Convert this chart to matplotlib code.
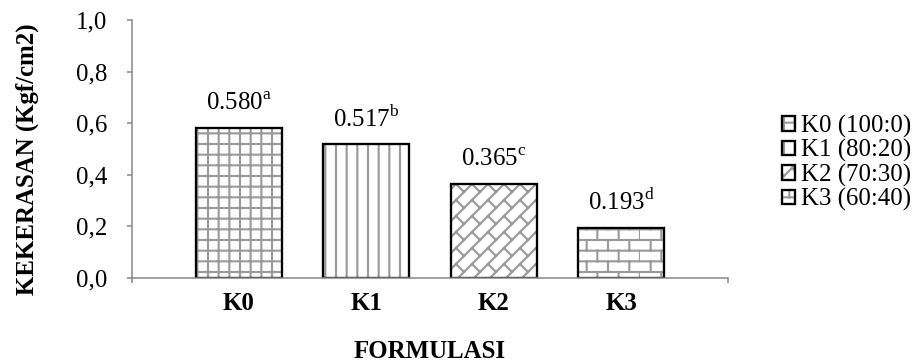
import warnings
import numpy as np
import matplotlib
matplotlib.use("Agg")
import matplotlib.pyplot as plt
from matplotlib import hatch as mhatch
from matplotlib.path import Path

warnings.filterwarnings("ignore", message="hatch must consist")

# data
formulasi = ["K0", "K1", "K2", "K3"]
kekerasan = [0.580, 0.517, 0.365, 0.193]
notasi = ["a", "b", "c", "d"]
legend_labels = ["K0 (100:0)", "K1 (80:20)", "K2 (70:30)", "K3 (60:40)"]
y_ticks = [0.0, 0.2, 0.4, 0.6, 0.8, 1.0]
y_ticklabels = ["0,0", "0,2", "0,4", "0,6", "0,8", "1,0"]


# extra hatch patterns: 'b' = brick, 'd' = diagonal brick
class BrickHatch(mhatch.HatchPatternBase):
    def __init__(self, hatch, density):
        n = hatch.count('b')
        self.rows = int(n * density * 2)
        self.cols = int(n * density)
        if self.rows:
            self.num_vertices = 2 * self.rows + 2 * (self.rows + 1) * self.cols
        else:
            self.num_vertices = 0

    def set_vertices_and_codes(self, vertices, codes):
        rows, cols = self.rows, self.cols
        h = 1.0 / rows
        ys = (np.arange(rows) + 0.5) * h
        pts = []
        for y in ys:
            pts += [(0.0, y), (1.0, y)]
        for i in range(-1, rows):
            y0 = (i + 0.5) * h
            off = 0.5 * (i % 2)
            for j in range(cols):
                x = (j + off + 0.5) / cols
                pts += [(x, y0), (x, y0 + h)]
        vertices[:] = np.array(pts)
        codes[0::2] = Path.MOVETO
        codes[1::2] = Path.LINETO


class DiagonalBrickHatch(mhatch.HatchPatternBase):
    def __init__(self, hatch, density):
        n = hatch.count('d')
        self.m = int(n * (density + 2))
        self.q = self.m // 2
        if self.m:
            m, q = self.m, self.q
            self.num_vertices = 2 * (2 * m + 1) + 2 * (2 * m) * (2 * q + 1)
        else:
            self.num_vertices = 0

    def set_vertices_and_codes(self, vertices, codes):
        m, q = self.m, self.q
        pts = []
        for k in range(-m, m + 1):
            c = k / m
            pts += [(-1.0, -1.0 + c), (2.0, 2.0 + c)]
        for k in range(-m, m):
            c = k / m
            off = 0.5 * (k % 2)
            for j in range(2 * q + 1):
                d = (j + off) / q
                pts += [((d - c) / 2, (d + c) / 2),
                        ((d - c - 1.0 / m) / 2, (d + c + 1.0 / m) / 2)]
        vertices[:] = np.array(pts)
        codes[0::2] = Path.MOVETO
        codes[1::2] = Path.LINETO


mhatch._hatch_types.extend([BrickHatch, DiagonalBrickHatch])

hatches = ["++", "||", "d", "b"]

plt.rcParams['font.family'] = ['Liberation Serif', 'DejaVu Serif']
plt.rcParams['mathtext.fontset'] = 'custom'
plt.rcParams['mathtext.rm'] = 'Liberation Serif'
plt.rcParams['hatch.linewidth'] = 1.2

axis_grey = '#868686'
hatch_grey = '#9a9a9a'
fs = 14

fig = plt.figure(figsize=(922 / 128, 362 / 128), dpi=128)
ax = fig.add_axes([132 / 922, 1 - 277.5 / 362, 596 / 922, 257.5 / 362])

x = np.arange(len(formulasi))
# hatched fill first (hatch takes the edge colour), black outline on top
fills = ax.bar(x, kekerasan, width=0.675, color='white',
               edgecolor=hatch_grey, linewidth=0)
for b, h in zip(fills, hatches):
    b.set_hatch(h)
outlines = ax.bar(x, kekerasan, width=0.675, fill=False,
                  edgecolor='black', linewidth=1.3)

for xi, v, s in zip(x, kekerasan, notasi):
    ax.annotate(f"{v:.3f}$^{{\\mathrm{{{s}}}}}$", (xi, v), xytext=(0, 10),
                textcoords='offset points', ha='center', va='baseline',
                fontsize=fs)

ax.set_xlim(-0.84, 3.84)
ax.set_ylim(0, 1.0)
ax.set_yticks(y_ticks)
ax.set_yticklabels(y_ticklabels)
ax.set_xticks(x)
ax.set_xticklabels(formulasi, fontweight='bold')
ax.set_xticks([-0.84, 3.84], minor=True)

ax.tick_params(axis='y', direction='out', length=3, width=0.85,
               color=axis_grey, pad=11, labelsize=fs)
ax.tick_params(axis='x', which='major', length=0, pad=8, labelsize=fs)
ax.tick_params(axis='x', which='minor', direction='out', length=3,
               width=0.85, color=axis_grey)

for side in ['top', 'right']:
    ax.spines[side].set_visible(False)
for side in ['left', 'bottom']:
    ax.spines[side].set_color(axis_grey)
    ax.spines[side].set_linewidth(0.85)

fig.text(27 / 922, 1 - 159 / 362, "KEKERASAN (Kgf/cm2)", rotation=90,
         ha='center', va='center', fontsize=fs, fontweight='bold')
fig.text(430 / 922, 1 - 351 / 362, "FORMULASI", ha='center', va='center',
         fontsize=fs, fontweight='bold')

handles = [(f, o) for f, o in zip(fills, outlines)]
fig.legend(handles=handles, labels=legend_labels, loc='center left',
           bbox_to_anchor=(782 / 922, 1 - 163 / 362), frameon=False,
           fontsize=fs, handlelength=0.52, handleheight=0.52,
           handletextpad=0.25, labelspacing=0.06, borderpad=0,
           borderaxespad=0)

fig.savefig("out.png", dpi=128)
